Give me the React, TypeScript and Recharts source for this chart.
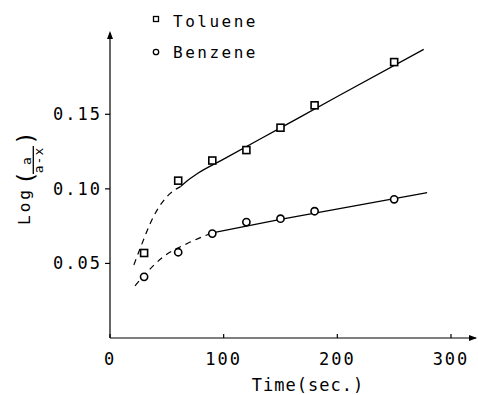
import React from 'react';
import { ComposedChart, Line, Scatter, XAxis, YAxis, Legend, Customized } from 'recharts';

// Axis ticks
const timeTicks = [0, 100, 200, 300];
const logTicks = [0.05, 0.1, 0.15];

// Measured points
const tolueneTime = [30, 60, 90, 120, 150, 180, 250];
const tolueneLog = [0.057, 0.1055, 0.119, 0.126, 0.141, 0.156, 0.185];
const benzeneTime = [30, 60, 90, 120, 150, 180, 250];
const benzeneLog = [0.041, 0.0575, 0.07, 0.0777, 0.08, 0.085, 0.093];

// Hand-drawn fit curves
const tolueneDashTime = [21, 27, 38, 53, 62];
const tolueneDashLog = [0.049, 0.061, 0.081, 0.097, 0.1015];
const tolueneSolidTime = [62, 68, 76, 100, 150, 200, 276];
const tolueneSolidLog = [0.1015, 0.1055, 0.1098, 0.1199, 0.1409, 0.1619, 0.1935];
const benzeneDashTime = [22, 30, 47, 68, 90];
const benzeneDashLog = [0.035, 0.042, 0.0545, 0.0634, 0.0705];
const benzeneSolidTime = [90, 150, 279];
const benzeneSolidLog = [0.0705, 0.0795, 0.0975];

const legendOrder = ['Toluene', 'Benzene'];

const zip = (xs: number[], ys: number[]) => xs.map((x, i) => ({ t: x, v: ys[i] }));

const tolueneData = zip(tolueneTime, tolueneLog);
const benzeneData = zip(benzeneTime, benzeneLog);
const tolueneDash = zip(tolueneDashTime, tolueneDashLog);
const tolueneSolid = zip(tolueneSolidTime, tolueneSolidLog);
const benzeneDash = zip(benzeneDashTime, benzeneDashLog);
const benzeneSolid = zip(benzeneSolidTime, benzeneSolidLog);

const FONT = '"DejaVu Sans Mono", monospace';

const SquareDot = (props: any) => {
  const { cx, cy } = props;
  if (cx == null || cy == null) return null;
  return <rect x={cx - 3.5} y={cy - 3.5} width={7} height={7} fill="#fff" stroke="#000" strokeWidth={1.6} />;
};
const CircleDot = (props: any) => {
  const { cx, cy } = props;
  if (cx == null || cy == null) return null;
  return <circle cx={cx} cy={cy} r={3.6} fill="#fff" stroke="#000" strokeWidth={1.6} />;
};

const LegendContent = (props: any) => {
  const items = legendOrder
    .map((name) => (props.payload || []).find((p: any) => p.value === name))
    .filter(Boolean);
  return (
    <svg width={160} height={64} style={{ display: 'block' }}>
      {items.map((p: any, i: number) => {
        const cy = i === 0 ? 19 : 52;
        const base = i === 0 ? 27 : 58;
        return (
          <g key={p.value}>
            {p.value === 'Toluene' ? (
              <rect x={8.5} y={cy - 2.5} width={5} height={5} fill="#fff" stroke="#000" strokeWidth={1.3} />
            ) : (
              <circle cx={11} cy={cy} r={2.7} fill="#fff" stroke="#000" strokeWidth={1.3} />
            )}
            <text x={28} y={base} fontFamily={FONT} fontSize={16} letterSpacing={2.5} fill="#000">
              {p.value}
            </text>
          </g>
        );
      })}
    </svg>
  );
};

const Decorations = () => (
  <g>
    {/* axis arrows */}
    <polygon points="110,31 107,39 113,39" fill="#000" />
    <polygon points="477,338 469,335 469,341" fill="#000" />
    {/* y-axis title */}
    <g transform="translate(30,225) rotate(-90)" fontFamily={FONT} fill="#000">
      <text x={0} y={0} fontSize={16} letterSpacing={3}>Log</text>
      <text x={40} y={4} fontSize={23}>(</text>
      <text x={64} y={1} fontSize={13} textAnchor="middle">a</text>
      <line x1={51} x2={79} y1={3.3} y2={3.3} stroke="#000" strokeWidth={1.3} />
      <text x={65} y={12.5} fontSize={13} textAnchor="middle" letterSpacing={1}>a-x</text>
      <text x={80} y={4} fontSize={23}>)</text>
    </g>
    {/* x-axis title */}
    <text x={308} y={391} textAnchor="middle" fontFamily={FONT} fontSize={17} letterSpacing={1} fill="#000">
      Time(sec.)
    </text>
  </g>
);

export default function App() {
  return (
    <div style={{ position: 'absolute', left: 0, top: 0, background: '#fff' }}>
      <ComposedChart width={478} height={395} margin={{ top: 33, right: 2, bottom: 27, left: 50 }}>
        <XAxis
          type="number"
          dataKey="t"
          domain={[0, 322]}
          ticks={timeTicks}
          allowDataOverflow
          height={30}
          stroke="#000"
          axisLine={{ stroke: '#000', strokeWidth: 1.2 }}
          tickLine={{ stroke: '#000', strokeWidth: 1.2 }}
          tickSize={-4}
          tickMargin={19}
          tick={{ fill: '#000', fontSize: 17, fontFamily: FONT, letterSpacing: 2 }}
        />
        <YAxis
          type="number"
          dataKey="v"
          domain={[0, 0.2045]}
          ticks={logTicks}
          allowDataOverflow
          width={60}
          stroke="#000"
          axisLine={{ stroke: '#000', strokeWidth: 1.2 }}
          tickLine={{ stroke: '#000', strokeWidth: 1.2 }}
          tickSize={5}
          tickMargin={3}
          tickFormatter={(v: number) => v.toFixed(2)}
          tick={{ fill: '#000', fontSize: 17, fontFamily: FONT, letterSpacing: 2 }}
        />
        <Line data={tolueneDash} dataKey="v" type="monotone" stroke="#000" strokeWidth={1.2} strokeDasharray="6 5" dot={false} activeDot={false} legendType="none" isAnimationActive={false} />
        <Line data={tolueneSolid} dataKey="v" type="monotone" stroke="#000" strokeWidth={1.3} dot={false} activeDot={false} legendType="none" isAnimationActive={false} />
        <Line data={benzeneDash} dataKey="v" type="monotone" stroke="#000" strokeWidth={1.2} strokeDasharray="6 5" dot={false} activeDot={false} legendType="none" isAnimationActive={false} />
        <Line data={benzeneSolid} dataKey="v" type="monotone" stroke="#000" strokeWidth={1.3} dot={false} activeDot={false} legendType="none" isAnimationActive={false} />
        <Scatter name="Toluene" data={tolueneData} dataKey="v" shape={SquareDot} isAnimationActive={false} />
        <Scatter name="Benzene" data={benzeneData} dataKey="v" shape={CircleDot} isAnimationActive={false} />
        <Legend
          layout="vertical"
          align="center"
          verticalAlign="middle"
          content={LegendContent}
          wrapperStyle={{ left: 145, top: 0, width: 160, height: 64 }}
        />
        <Customized component={Decorations} />
      </ComposedChart>
    </div>
  );
}
